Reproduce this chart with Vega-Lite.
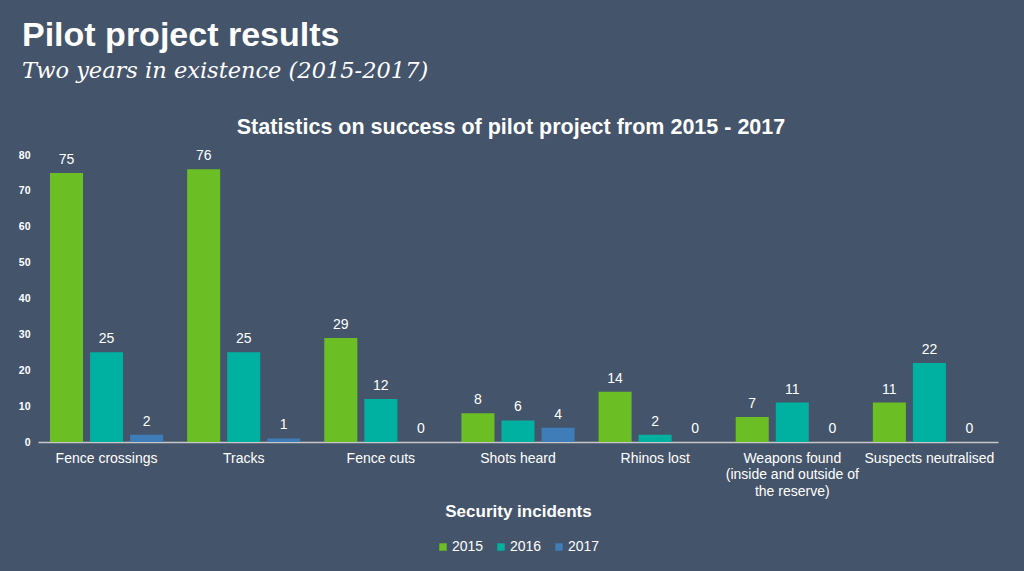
{
  "$schema": "https://vega.github.io/schema/vega-lite/v6.json",
  "background": "#44546a",
  "padding": {"left": 18, "top": 19, "right": 26, "bottom": 17},
  "config": {"view": {"stroke": null}, "font": "Liberation Sans", "legend": {"layout": {"bottom": {"anchor": "middle"}}}},
  "title": {
    "text": "Pilot project results",
    "subtitle": "Two years in existence (2015-2017)",
    "anchor": "start",
    "frame": "group",
    "dx": -16,
    "font": "Liberation Sans",
    "fontSize": 34,
    "fontWeight": "bold",
    "color": "#ffffff",
    "subtitleFont": "DejaVu Serif",
    "subtitleFontStyle": "italic",
    "subtitleFontSize": 22.5,
    "subtitleColor": "#ffffff",
    "subtitlePadding": 7,
    "offset": 34
  },
  "vconcat": [
    {
      "width": 960,
      "height": 287,
      "title": {
        "text": "Statistics on success of pilot project from 2015 - 2017",
        "anchor": "middle",
        "frame": "group",
        "dx": -7,
        "fontSize": 21.5,
        "fontWeight": "bold",
        "color": "#ffffff",
        "offset": 11
      },
      "data": {
        "values": [
          {"incident": "Fence crossings", "year": "2015", "count": 75},
          {"incident": "Fence crossings", "year": "2016", "count": 25},
          {"incident": "Fence crossings", "year": "2017", "count": 2},
          {"incident": "Tracks", "year": "2015", "count": 76},
          {"incident": "Tracks", "year": "2016", "count": 25},
          {"incident": "Tracks", "year": "2017", "count": 1},
          {"incident": "Fence cuts", "year": "2015", "count": 29},
          {"incident": "Fence cuts", "year": "2016", "count": 12},
          {"incident": "Fence cuts", "year": "2017", "count": 0},
          {"incident": "Shots heard", "year": "2015", "count": 8},
          {"incident": "Shots heard", "year": "2016", "count": 6},
          {"incident": "Shots heard", "year": "2017", "count": 4},
          {"incident": "Rhinos lost", "year": "2015", "count": 14},
          {"incident": "Rhinos lost", "year": "2016", "count": 2},
          {"incident": "Rhinos lost", "year": "2017", "count": 0},
          {"incident": "Weapons found (inside and outside of the reserve)", "year": "2015", "count": 7},
          {"incident": "Weapons found (inside and outside of the reserve)", "year": "2016", "count": 11},
          {"incident": "Weapons found (inside and outside of the reserve)", "year": "2017", "count": 0},
          {"incident": "Suspects neutralised", "year": "2015", "count": 11},
          {"incident": "Suspects neutralised", "year": "2016", "count": 22},
          {"incident": "Suspects neutralised", "year": "2017", "count": 0}
        ]
      },
      "encoding": {
        "x": {
          "field": "incident",
          "type": "nominal",
          "sort": null,
          "scale": {"paddingInner": 0.175, "paddingOuter": 0.0875},
          "axis": {
            "title": "Security incidents",
            "titleFontSize": 17,
            "titleFontWeight": "bold",
            "titleColor": "#ffffff",
            "titlePadding": 5,
            "labelAngle": 0,
            "labelFontSize": 14,
            "labelColor": "#ffffff",
            "labelPadding": 9,
            "labelLineHeight": 16.5,
            "labelExpr": "datum.value == 'Weapons found (inside and outside of the reserve)' ? ['Weapons found', '(inside and outside of', 'the reserve)'] : datum.label",
            "ticks": false,
            "domainColor": "#c8c8c8",
            "domainWidth": 1.5
          }
        },
        "xOffset": {"field": "year", "type": "nominal", "scale": {"paddingInner": 0.175, "paddingOuter": 0}},
        "y": {
          "field": "count",
          "type": "quantitative",
          "scale": {"domain": [0, 80]},
          "axis": {
            "title": null,
            "values": [0, 10, 20, 30, 40, 50, 60, 70, 80],
            "grid": false,
            "domain": false,
            "ticks": false,
            "labelFontSize": 10.5,
            "labelFontWeight": "bold",
            "labelColor": "#ffffff",
            "labelPadding": 8
          }
        }
      },
      "layer": [
        {
          "mark": {"type": "bar"},
          "encoding": {
            "color": {
              "field": "year",
              "type": "nominal",
              "scale": {"domain": ["2015", "2016", "2017"], "range": ["#6bbe24", "#00b0a0", "#3f7db8"]},
              "legend": {
                "title": null,
                "orient": "bottom",
                "direction": "horizontal",
                "symbolType": "square",
                "symbolSize": 56,
                "symbolStrokeWidth": 0,
                "labelFontSize": 14,
                "labelColor": "#ffffff",
                "labelOffset": 2,
                "columnPadding": 10,
                "offset": 21
              }
            }
          }
        },
        {
          "mark": {"type": "text", "baseline": "bottom", "dy": -6, "fontSize": 14, "color": "#ffffff"},
          "encoding": {"text": {"field": "count", "type": "quantitative"}}
        }
      ]
    }
  ]
}
